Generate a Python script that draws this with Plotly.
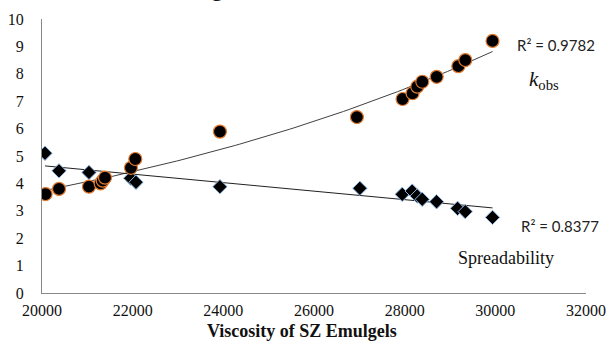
import numpy as np
import plotly.graph_objects as go

# kobs series (viscosity, value)
kobs_x = [20080, 20375, 21036, 21294, 21340, 21390, 21962, 22058, 23925, 26946,
          27954, 28174, 28278, 28389, 28706, 29184, 29338, 29938]
kobs_y = [3.61, 3.80, 3.88, 4.00, 4.10, 4.21, 4.57, 4.89, 5.89, 6.42,
          7.08, 7.29, 7.53, 7.71, 7.89, 8.28, 8.50, 9.20]

# Spreadability series
spr_x = [20066, 20375, 21036, 21956, 22073, 23925, 27012, 27946, 28166, 28277,
         28387, 28704, 29167, 29336, 29938]
spr_y = [5.10, 4.46, 4.40, 4.19, 4.04, 3.88, 3.82, 3.60, 3.72, 3.54,
         3.42, 3.33, 3.09, 2.97, 2.76]

x_ticks = [20000, 22000, 24000, 26000, 28000, 30000, 32000]
y_ticks = list(range(0, 11))

# trendlines: exponential for kobs, linear for spreadability
kx = np.array(kobs_x, float); ky = np.array(kobs_y, float)
b, a = np.polyfit(kx, np.log(ky), 1)
kfit_x = np.linspace(kx.min(), kx.max(), 100)
kfit_y = np.exp(a) * np.exp(b * kfit_x)

sx = np.array(spr_x, float); sy = np.array(spr_y, float)
m, c = np.polyfit(sx, sy, 1)
sfit_x = np.array([sx.min(), sx.max()])
sfit_y = m * sfit_x + c

fig = go.Figure()
fig.add_trace(go.Scatter(x=kfit_x, y=kfit_y, mode="lines",
                         line=dict(color="#404040", width=1), hoverinfo="skip"))
fig.add_trace(go.Scatter(x=sfit_x, y=sfit_y, mode="lines",
                         line=dict(color="#202020", width=1), hoverinfo="skip"))
fig.add_trace(go.Scatter(x=spr_x, y=spr_y, mode="markers",
                         marker=dict(symbol="diamond", size=11, color="black",
                                     line=dict(color="#8DB4E2", width=1))))
fig.add_trace(go.Scatter(x=kobs_x, y=kobs_y, mode="markers",
                         marker=dict(symbol="circle", size=13, color="black",
                                     line=dict(color="#E07B30", width=1.2))))

L, R, T, B = 42, 21, 19, 57
W, H = 607, 350
pw = W - L - R
ph = H - T - B

def px_to_paper_x(px):
    return (px - L) / pw

def px_to_paper_y(py):
    return (H - B - py) / ph

serif = "Liberation Serif"
sans = "Lato"

def ann(text, px, py, family, size, color="#111"):
    return dict(text=text, x=px_to_paper_x(px), y=px_to_paper_y(py),
                xref="paper", yref="paper", xanchor="center", yanchor="middle",
                showarrow=False, font=dict(family=family, size=size, color=color))

annotations = [
    ann("R² = 0.9782", 556, 45, sans, 15, "#222"),
    ann("<i>k</i><sub>obs</sub>", 544, 80, serif, 21),
    ann("R² = 0.8377", 560, 226, sans, 15, "#222"),
    ann("Spreadability", 506, 258, serif, 18),
    ann("<b>Viscosity of SZ Emulgels</b>", 302, 331, serif, 18),
    ann("g", 217, -12, serif, 24),
]

fig.update_layout(
    width=W, height=H, autosize=False,
    margin=dict(l=L, r=R, t=T, b=B, autoexpand=False),
    paper_bgcolor="white", plot_bgcolor="white",
    showlegend=False,
    font=dict(family=serif, size=16, color="#111"),
    annotations=annotations,
)
fig.update_xaxes(range=[20000, 32000], tickvals=x_ticks, ticktext=[str(v) for v in x_ticks],
                 showgrid=False, zeroline=False, showline=True, linecolor="#898989",
                 linewidth=1, ticks="", ticklabelstandoff=3, automargin=False,
                 tickfont=dict(family=serif, size=16, color="#111"))
fig.update_yaxes(range=[0, 10], tickvals=y_ticks, showgrid=False, zeroline=False,
                 showline=True, linecolor="#898989", linewidth=1, ticks="",
                 ticklabelstandoff=14, automargin=False,
                 tickfont=dict(family=serif, size=16, color="#111"))

fig.write_html("out.html")
